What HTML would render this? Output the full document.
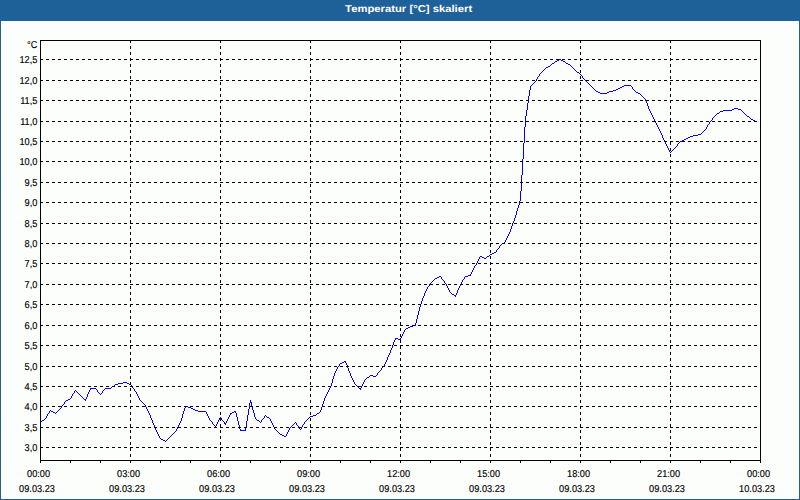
<!DOCTYPE html>
<html><head><meta charset="utf-8"><title>Temperatur</title>
<style>
html,body{margin:0;padding:0;background:#fcfefc;overflow:hidden;}
svg{display:block;}
text{font-family:"Liberation Sans",sans-serif;text-rendering:geometricPrecision;}
.lab{font-size:10px;fill:#000;stroke:#000;stroke-width:0.15px;}
.ttl{font-size:10px;font-weight:bold;fill:#fff;}
</style></head><body>
<svg width="800" height="500" viewBox="0 0 800 500">
<rect x="0" y="0" width="800" height="500" fill="#fcfefc"/>
<defs><pattern id="dz" x="0" y="0" width="16" height="10" patternUnits="userSpaceOnUse"><rect width="16" height="10" fill="#1e6196"/><path fill="#2060b2" shape-rendering="crispEdges" d="M5 1h1v1h-1zM12 1h1v1h-1zM2 2h1v1h-1zM7 2h1v1h-1zM10 2h1v1h-1zM15 2h1v1h-1zM4 4h1v1h-1zM11 4h1v1h-1zM2 5h1v1h-1zM8 5h1v1h-1zM13 5h1v1h-1zM6 6h1v1h-1zM11 7h1v1h-1zM1 8h1v1h-1zM4 8h1v1h-1zM7 8h1v1h-1zM15 8h1v1h-1zM9 9h1v1h-1zM13 9h1v1h-1z"/></pattern></defs>
<rect x="0" y="0" width="800" height="21" fill="#1e6196"/>
<rect x="0" y="0" width="800" height="20" fill="url(#dz)"/>
<rect x="1" y="20" width="798" height="1" fill="#1e6196"/>
<rect x="0" y="21" width="800" height="479" fill="#1e6196"/>
<rect x="1" y="21" width="798" height="478" fill="#fcfefc"/>
<rect x="2" y="22" width="796" height="476" fill="#fcfefc"/>
<text class="ttl" transform="translate(408.6,12) scale(1.127,1)" text-anchor="middle">Temperatur [°C] skaliert</text>
<path d="M41.5 421v1M42.5 420v1M43.5 420v1M44.5 419v1M45.5 418v1M46.5 416v2M47.5 414v2M48.5 413v1M49.5 411v2M50.5 410v1M51.5 411v1M52.5 411v1M53.5 412v1M54.5 412v1M55.5 413v1M56.5 412v1M57.5 411v1M58.5 410v1M59.5 409v1M60.5 408v1M61.5 406v2M62.5 405v1M63.5 404v1M64.5 402v2M65.5 401v1M66.5 400v1M67.5 400v1M68.5 399v1M69.5 399v1M70.5 398v1M71.5 396v2M72.5 394v2M73.5 393v1M74.5 391v2M75.5 390v1M76.5 391v1M77.5 392v1M78.5 393v1M79.5 394v1M80.5 395v1M81.5 396v1M82.5 397v1M83.5 398v1M84.5 399v1M85.5 399v2M86.5 397v2M87.5 394v3M88.5 392v2M89.5 390v2M90.5 388v2M91.5 388v1M92.5 388v1M93.5 388v1M94.5 388v1M95.5 388v1M96.5 389v1M97.5 390v2M98.5 392v1M99.5 393v1M100.5 394v1M101.5 393v1M102.5 391v2M103.5 390v1M104.5 389v1M105.5 388v1M106.5 388v1M107.5 388v1M108.5 388v1M109.5 388v1M110.5 388v1M111.5 387v1M112.5 386v1M113.5 386v1M114.5 385v1M115.5 384v1M116.5 384v1M117.5 384v1M118.5 383v1M119.5 383v1M120.5 383v1M121.5 383v1M122.5 383v1M123.5 382v1M124.5 382v1M125.5 382v1M126.5 382v1M127.5 383v1M128.5 383v1M129.5 384v1M130.5 384v1M131.5 385v2M132.5 387v1M133.5 388v1M134.5 389v2M135.5 391v1M136.5 392v2M137.5 394v2M138.5 396v2M139.5 398v2M140.5 400v1M141.5 401v1M142.5 402v1M143.5 403v1M144.5 404v1M145.5 405v2M146.5 407v2M147.5 409v2M148.5 411v2M149.5 413v2M150.5 415v3M151.5 418v2M152.5 420v3M153.5 423v2M154.5 425v2M155.5 427v3M156.5 430v2M157.5 432v2M158.5 434v2M159.5 436v2M160.5 438v1M161.5 439v1M162.5 439v1M163.5 440v1M164.5 440v1M165.5 441v1M166.5 440v1M167.5 439v1M168.5 438v1M169.5 437v1M170.5 436v1M171.5 435v1M172.5 434v1M173.5 433v1M174.5 432v1M175.5 431v1M176.5 429v2M177.5 427v2M178.5 425v2M179.5 423v2M180.5 421v2M181.5 418v3M182.5 414v4M183.5 411v3M184.5 408v3M185.5 406v2M186.5 406v1M187.5 406v1M188.5 407v1M189.5 407v1M190.5 407v1M191.5 408v1M192.5 408v1M193.5 409v1M194.5 409v1M195.5 410v1M196.5 410v1M197.5 410v1M198.5 411v1M199.5 411v1M200.5 411v1M201.5 411v1M202.5 411v1M203.5 411v1M204.5 411v1M205.5 411v1M206.5 412v2M207.5 414v2M208.5 416v2M209.5 418v2M210.5 420v1M211.5 421v1M212.5 422v2M213.5 424v1M214.5 425v1M215.5 426v1M216.5 424v2M217.5 422v2M218.5 420v2M219.5 418v2M220.5 417v1M221.5 418v2M222.5 420v1M223.5 421v1M224.5 422v2M225.5 423v2M226.5 421v2M227.5 419v2M228.5 417v2M229.5 415v2M230.5 413v2M231.5 413v1M232.5 412v1M233.5 412v1M234.5 411v1M235.5 411v2M236.5 413v4M237.5 417v4M238.5 421v4M239.5 425v4M240.5 429v2M241.5 430v1M242.5 430v1M243.5 430v1M244.5 430v1M245.5 427v4M246.5 421v6M247.5 415v6M248.5 409v6M249.5 403v6M250.5 400v3M251.5 402v4M252.5 406v4M253.5 410v3M254.5 413v4M255.5 417v2M256.5 419v1M257.5 420v1M258.5 420v1M259.5 421v1M260.5 422v1M261.5 420v2M262.5 419v1M263.5 418v1M264.5 416v2M265.5 415v1M266.5 416v1M267.5 417v1M268.5 417v1M269.5 418v1M270.5 419v2M271.5 421v2M272.5 423v2M273.5 425v2M274.5 427v2M275.5 429v1M276.5 430v1M277.5 431v1M278.5 432v1M279.5 433v1M280.5 434v1M281.5 434v1M282.5 435v1M283.5 435v1M284.5 436v1M285.5 436v1M286.5 434v2M287.5 432v2M288.5 430v2M289.5 428v2M290.5 427v1M291.5 426v1M292.5 425v1M293.5 424v1M294.5 423v1M295.5 422v1M296.5 423v2M297.5 425v1M298.5 426v1M299.5 427v2M300.5 429v1M301.5 427v2M302.5 425v2M303.5 424v1M304.5 422v2M305.5 421v1M306.5 420v1M307.5 419v1M308.5 418v1M309.5 417v1M310.5 416v1M311.5 416v1M312.5 416v1M313.5 415v1M314.5 415v1M315.5 415v1M316.5 414v1M317.5 413v1M318.5 413v1M319.5 412v1M320.5 410v2M321.5 407v3M322.5 404v3M323.5 401v3M324.5 398v3M325.5 396v2M326.5 394v2M327.5 392v2M328.5 390v2M329.5 388v2M330.5 386v2M331.5 383v3M332.5 379v4M333.5 376v3M334.5 373v3M335.5 371v2M336.5 369v2M337.5 367v2M338.5 366v1M339.5 364v2M340.5 363v1M341.5 363v1M342.5 362v1M343.5 362v1M344.5 361v1M345.5 361v2M346.5 363v2M347.5 365v3M348.5 368v3M349.5 371v2M350.5 373v3M351.5 376v2M352.5 378v2M353.5 380v2M354.5 382v2M355.5 384v1M356.5 385v1M357.5 386v1M358.5 387v1M359.5 388v1M360.5 388v2M361.5 386v2M362.5 384v2M363.5 382v2M364.5 380v2M365.5 379v1M366.5 378v1M367.5 377v1M368.5 377v1M369.5 376v1M370.5 375v1M371.5 375v1M372.5 375v1M373.5 376v1M374.5 376v1M375.5 376v1M376.5 375v1M377.5 373v2M378.5 372v1M379.5 371v1M380.5 370v1M381.5 368v2M382.5 367v1M383.5 366v1M384.5 364v2M385.5 362v2M386.5 360v2M387.5 357v3M388.5 355v2M389.5 353v2M390.5 350v3M391.5 348v2M392.5 345v3M393.5 342v3M394.5 340v2M395.5 338v2M396.5 338v1M397.5 338v1M398.5 339v1M399.5 339v1M400.5 338v2M401.5 336v2M402.5 334v2M403.5 332v2M404.5 330v2M405.5 329v1M406.5 328v1M407.5 328v1M408.5 327v1M409.5 327v1M410.5 326v1M411.5 326v1M412.5 326v1M413.5 325v1M414.5 325v1M415.5 323v3M416.5 319v4M417.5 315v4M418.5 311v4M419.5 307v4M420.5 304v3M421.5 301v3M422.5 298v3M423.5 296v2M424.5 293v3M425.5 291v2M426.5 289v2M427.5 287v2M428.5 286v1M429.5 284v2M430.5 283v1M431.5 282v1M432.5 281v1M433.5 280v1M434.5 279v1M435.5 278v1M436.5 278v1M437.5 277v1M438.5 277v1M439.5 276v1M440.5 276v1M441.5 277v2M442.5 279v1M443.5 280v1M444.5 281v2M445.5 283v1M446.5 284v2M447.5 286v2M448.5 288v2M449.5 290v2M450.5 292v1M451.5 293v1M452.5 294v1M453.5 294v1M454.5 295v1M455.5 295v2M456.5 293v2M457.5 290v3M458.5 288v2M459.5 286v2M460.5 284v2M461.5 282v2M462.5 280v2M463.5 279v1M464.5 277v2M465.5 276v1M466.5 276v1M467.5 276v1M468.5 275v1M469.5 275v1M470.5 274v2M471.5 272v2M472.5 270v2M473.5 268v2M474.5 266v2M475.5 265v1M476.5 263v2M477.5 261v2M478.5 259v2M479.5 257v2M480.5 256v1M481.5 256v1M482.5 257v1M483.5 257v1M484.5 258v1M485.5 258v1M486.5 257v1M487.5 256v1M488.5 256v1M489.5 255v1M490.5 254v1M491.5 254v1M492.5 253v1M493.5 253v1M494.5 252v1M495.5 252v1M496.5 250v2M497.5 249v1M498.5 248v1M499.5 246v2M500.5 245v1M501.5 244v1M502.5 243v1M503.5 243v1M504.5 242v1M505.5 240v2M506.5 238v2M507.5 236v2M508.5 234v2M509.5 232v2M510.5 229v3M511.5 226v3M512.5 223v3M513.5 221v2M514.5 218v3M515.5 215v3M516.5 211v4M517.5 208v3M518.5 205v3M519.5 201v4M520.5 191v10M521.5 175v16M522.5 159v16M523.5 143v16M524.5 127v16M525.5 116v11M526.5 110v6M527.5 103v7M528.5 96v7M529.5 90v6M530.5 86v4M531.5 85v1M532.5 84v1M533.5 83v1M534.5 82v1M535.5 81v1M536.5 79v2M537.5 77v2M538.5 76v1M539.5 74v2M540.5 73v1M541.5 72v1M542.5 71v1M543.5 70v1M544.5 69v1M545.5 68v1M546.5 67v1M547.5 67v1M548.5 66v1M549.5 66v1M550.5 65v1M551.5 64v1M552.5 63v1M553.5 63v1M554.5 62v1M555.5 61v1M556.5 61v1M557.5 60v1M558.5 60v1M559.5 59v1M560.5 59v1M561.5 60v1M562.5 60v1M563.5 61v1M564.5 61v1M565.5 62v1M566.5 63v1M567.5 63v1M568.5 64v1M569.5 64v1M570.5 65v1M571.5 66v1M572.5 67v1M573.5 68v1M574.5 69v1M575.5 70v1M576.5 71v1M577.5 72v1M578.5 72v1M579.5 73v1M580.5 74v1M581.5 75v1M582.5 76v2M583.5 78v1M584.5 79v1M585.5 80v1M586.5 81v1M587.5 82v1M588.5 83v1M589.5 84v1M590.5 85v1M591.5 86v1M592.5 87v1M593.5 88v1M594.5 89v1M595.5 90v1M596.5 91v1M597.5 91v1M598.5 92v1M599.5 92v1M600.5 93v1M601.5 93v1M602.5 93v1M603.5 93v1M604.5 93v1M605.5 93v1M606.5 93v1M607.5 92v1M608.5 92v1M609.5 91v1M610.5 91v1M611.5 91v1M612.5 91v1M613.5 90v1M614.5 90v1M615.5 90v1M616.5 89v1M617.5 89v1M618.5 88v1M619.5 88v1M620.5 87v1M621.5 87v1M622.5 86v1M623.5 86v1M624.5 85v1M625.5 85v1M626.5 85v1M627.5 85v1M628.5 85v1M629.5 85v1M630.5 85v1M631.5 86v1M632.5 87v2M633.5 89v1M634.5 90v1M635.5 91v1M636.5 92v1M637.5 92v1M638.5 93v1M639.5 93v1M640.5 94v1M641.5 95v1M642.5 96v1M643.5 97v1M644.5 98v1M645.5 99v2M646.5 101v2M647.5 103v3M648.5 106v3M649.5 109v2M650.5 111v2M651.5 113v2M652.5 115v2M653.5 117v2M654.5 119v2M655.5 121v2M656.5 123v2M657.5 125v2M658.5 127v2M659.5 129v2M660.5 131v2M661.5 133v2M662.5 135v3M663.5 138v2M664.5 140v2M665.5 142v2M666.5 144v2M667.5 146v2M668.5 148v2M669.5 150v2M670.5 152v1M671.5 151v1M672.5 150v1M673.5 149v1M674.5 148v1M675.5 147v1M676.5 146v1M677.5 144v2M678.5 143v1M679.5 142v1M680.5 141v1M681.5 141v1M682.5 140v1M683.5 140v1M684.5 139v1M685.5 139v1M686.5 138v1M687.5 138v1M688.5 137v1M689.5 137v1M690.5 136v1M691.5 136v1M692.5 136v1M693.5 135v1M694.5 135v1M695.5 135v1M696.5 135v1M697.5 135v1M698.5 134v1M699.5 134v1M700.5 134v1M701.5 133v1M702.5 132v1M703.5 131v1M704.5 130v1M705.5 129v1M706.5 127v2M707.5 125v2M708.5 124v1M709.5 122v2M710.5 121v1M711.5 120v1M712.5 118v2M713.5 117v1M714.5 116v1M715.5 115v1M716.5 114v1M717.5 113v1M718.5 113v1M719.5 112v1M720.5 111v1M721.5 111v1M722.5 111v1M723.5 110v1M724.5 110v1M725.5 110v1M726.5 110v1M727.5 110v1M728.5 110v1M729.5 110v1M730.5 110v1M731.5 110v1M732.5 109v1M733.5 109v1M734.5 108v1M735.5 108v1M736.5 108v1M737.5 108v1M738.5 109v1M739.5 109v1M740.5 109v1M741.5 110v1M742.5 111v1M743.5 112v1M744.5 113v1M745.5 114v1M746.5 115v1M747.5 116v1M748.5 116v1M749.5 117v1M750.5 118v1M751.5 119v1M752.5 119v1M753.5 120v1M754.5 120v1M755.5 121v1" fill="none" stroke="#0000ff" stroke-width="1" shape-rendering="crispEdges"/>
<g shape-rendering="crispEdges" stroke="#000" stroke-width="1" fill="none">
<line x1="40" y1="59.5" x2="760" y2="59.5" stroke-dasharray="3 3"/>
<line x1="40" y1="80.5" x2="760" y2="80.5" stroke-dasharray="3 3"/>
<line x1="40" y1="100.5" x2="760" y2="100.5" stroke-dasharray="3 3"/>
<line x1="40" y1="121.5" x2="760" y2="121.5" stroke-dasharray="3 3"/>
<line x1="40" y1="141.5" x2="760" y2="141.5" stroke-dasharray="3 3"/>
<line x1="40" y1="161.5" x2="760" y2="161.5" stroke-dasharray="3 3"/>
<line x1="40" y1="182.5" x2="760" y2="182.5" stroke-dasharray="3 3"/>
<line x1="40" y1="202.5" x2="760" y2="202.5" stroke-dasharray="3 3"/>
<line x1="40" y1="223.5" x2="760" y2="223.5" stroke-dasharray="3 3"/>
<line x1="40" y1="243.5" x2="760" y2="243.5" stroke-dasharray="3 3"/>
<line x1="40" y1="263.5" x2="760" y2="263.5" stroke-dasharray="3 3"/>
<line x1="40" y1="284.5" x2="760" y2="284.5" stroke-dasharray="3 3"/>
<line x1="40" y1="304.5" x2="760" y2="304.5" stroke-dasharray="3 3"/>
<line x1="40" y1="325.5" x2="760" y2="325.5" stroke-dasharray="3 3"/>
<line x1="40" y1="345.5" x2="760" y2="345.5" stroke-dasharray="3 3"/>
<line x1="40" y1="366.5" x2="760" y2="366.5" stroke-dasharray="3 3"/>
<line x1="40" y1="386.5" x2="760" y2="386.5" stroke-dasharray="3 3"/>
<line x1="40" y1="406.5" x2="760" y2="406.5" stroke-dasharray="3 3"/>
<line x1="40" y1="427.5" x2="760" y2="427.5" stroke-dasharray="3 3"/>
<line x1="40" y1="447.5" x2="760" y2="447.5" stroke-dasharray="3 3"/>
<line x1="130.5" y1="40" x2="130.5" y2="460" stroke-dasharray="3 3"/>
<line x1="220.5" y1="40" x2="220.5" y2="460" stroke-dasharray="3 3"/>
<line x1="310.5" y1="40" x2="310.5" y2="460" stroke-dasharray="3 3"/>
<line x1="400.5" y1="40" x2="400.5" y2="460" stroke-dasharray="3 3"/>
<line x1="490.5" y1="40" x2="490.5" y2="460" stroke-dasharray="3 3"/>
<line x1="580.5" y1="40" x2="580.5" y2="460" stroke-dasharray="3 3"/>
<line x1="670.5" y1="40" x2="670.5" y2="460" stroke-dasharray="3 3"/>
<rect x="40.5" y="40.5" width="720" height="420"/>
<line x1="40.5" y1="460" x2="40.5" y2="463"/>
<line x1="70.5" y1="460" x2="70.5" y2="463"/>
<line x1="100.5" y1="460" x2="100.5" y2="463"/>
<line x1="130.5" y1="460" x2="130.5" y2="463"/>
<line x1="160.5" y1="460" x2="160.5" y2="463"/>
<line x1="190.5" y1="460" x2="190.5" y2="463"/>
<line x1="220.5" y1="460" x2="220.5" y2="463"/>
<line x1="250.5" y1="460" x2="250.5" y2="463"/>
<line x1="280.5" y1="460" x2="280.5" y2="463"/>
<line x1="310.5" y1="460" x2="310.5" y2="463"/>
<line x1="340.5" y1="460" x2="340.5" y2="463"/>
<line x1="370.5" y1="460" x2="370.5" y2="463"/>
<line x1="400.5" y1="460" x2="400.5" y2="463"/>
<line x1="430.5" y1="460" x2="430.5" y2="463"/>
<line x1="460.5" y1="460" x2="460.5" y2="463"/>
<line x1="490.5" y1="460" x2="490.5" y2="463"/>
<line x1="520.5" y1="460" x2="520.5" y2="463"/>
<line x1="550.5" y1="460" x2="550.5" y2="463"/>
<line x1="580.5" y1="460" x2="580.5" y2="463"/>
<line x1="610.5" y1="460" x2="610.5" y2="463"/>
<line x1="640.5" y1="460" x2="640.5" y2="463"/>
<line x1="670.5" y1="460" x2="670.5" y2="463"/>
<line x1="700.5" y1="460" x2="700.5" y2="463"/>
<line x1="730.5" y1="460" x2="730.5" y2="463"/>
<line x1="760.5" y1="460" x2="760.5" y2="463"/>
</g>
<text class="lab" transform="translate(37.4,48) scale(0.92,1)" text-anchor="end">°C</text>
<text class="lab" transform="translate(37.4,63.0) scale(0.92,1)" text-anchor="end">12,5</text>
<text class="lab" transform="translate(37.4,84.0) scale(0.92,1)" text-anchor="end">12,0</text>
<text class="lab" transform="translate(37.4,104.0) scale(0.92,1)" text-anchor="end">11,5</text>
<text class="lab" transform="translate(37.4,125.0) scale(0.92,1)" text-anchor="end">11,0</text>
<text class="lab" transform="translate(37.4,145.0) scale(0.92,1)" text-anchor="end">10,5</text>
<text class="lab" transform="translate(37.4,165.0) scale(0.92,1)" text-anchor="end">10,0</text>
<text class="lab" transform="translate(37.4,186.0) scale(0.92,1)" text-anchor="end">9,5</text>
<text class="lab" transform="translate(37.4,206.0) scale(0.92,1)" text-anchor="end">9,0</text>
<text class="lab" transform="translate(37.4,227.0) scale(0.92,1)" text-anchor="end">8,5</text>
<text class="lab" transform="translate(37.4,247.0) scale(0.92,1)" text-anchor="end">8,0</text>
<text class="lab" transform="translate(37.4,267.0) scale(0.92,1)" text-anchor="end">7,5</text>
<text class="lab" transform="translate(37.4,288.0) scale(0.92,1)" text-anchor="end">7,0</text>
<text class="lab" transform="translate(37.4,308.0) scale(0.92,1)" text-anchor="end">6,5</text>
<text class="lab" transform="translate(37.4,329.0) scale(0.92,1)" text-anchor="end">6,0</text>
<text class="lab" transform="translate(37.4,349.0) scale(0.92,1)" text-anchor="end">5,5</text>
<text class="lab" transform="translate(37.4,370.0) scale(0.92,1)" text-anchor="end">5,0</text>
<text class="lab" transform="translate(37.4,390.0) scale(0.92,1)" text-anchor="end">4,5</text>
<text class="lab" transform="translate(37.4,410.0) scale(0.92,1)" text-anchor="end">4,0</text>
<text class="lab" transform="translate(37.4,431.0) scale(0.92,1)" text-anchor="end">3,5</text>
<text class="lab" transform="translate(37.4,451.0) scale(0.92,1)" text-anchor="end">3,0</text>
<text class="lab" transform="translate(38.6,477) scale(0.92,1)" text-anchor="middle">00:00</text>
<text class="lab" transform="translate(37.0,492) scale(0.92,1)" text-anchor="middle">09.03.23</text>
<text class="lab" transform="translate(128.6,477) scale(0.92,1)" text-anchor="middle">03:00</text>
<text class="lab" transform="translate(127.0,492) scale(0.92,1)" text-anchor="middle">09.03.23</text>
<text class="lab" transform="translate(218.6,477) scale(0.92,1)" text-anchor="middle">06:00</text>
<text class="lab" transform="translate(217.0,492) scale(0.92,1)" text-anchor="middle">09.03.23</text>
<text class="lab" transform="translate(308.6,477) scale(0.92,1)" text-anchor="middle">09:00</text>
<text class="lab" transform="translate(307.0,492) scale(0.92,1)" text-anchor="middle">09.03.23</text>
<text class="lab" transform="translate(398.6,477) scale(0.92,1)" text-anchor="middle">12:00</text>
<text class="lab" transform="translate(397.0,492) scale(0.92,1)" text-anchor="middle">09.03.23</text>
<text class="lab" transform="translate(488.6,477) scale(0.92,1)" text-anchor="middle">15:00</text>
<text class="lab" transform="translate(487.0,492) scale(0.92,1)" text-anchor="middle">09.03.23</text>
<text class="lab" transform="translate(578.6,477) scale(0.92,1)" text-anchor="middle">18:00</text>
<text class="lab" transform="translate(577.0,492) scale(0.92,1)" text-anchor="middle">09.03.23</text>
<text class="lab" transform="translate(668.6,477) scale(0.92,1)" text-anchor="middle">21:00</text>
<text class="lab" transform="translate(667.0,492) scale(0.92,1)" text-anchor="middle">09.03.23</text>
<text class="lab" transform="translate(758.6,477) scale(0.92,1)" text-anchor="middle">00:00</text>
<text class="lab" transform="translate(757.0,492) scale(0.92,1)" text-anchor="middle">10.03.23</text>
</svg>
</body></html>
